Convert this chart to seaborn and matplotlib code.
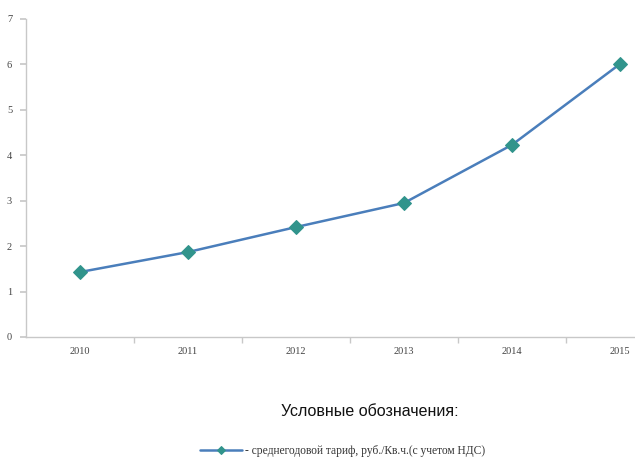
import matplotlib
matplotlib.use("Agg")
import matplotlib.pyplot as plt
import seaborn as sns
import pandas as pd
from matplotlib.ticker import FixedLocator

years = ["2010", "2011", "2012", "2013", "2014", "2015"]
tariff = [1.43, 1.87, 2.42, 2.95, 4.23, 6.01]
series_label = "- среднегодовой тариф, руб./Кв.ч.(с учетом НДС)"
legend_title = "Условные обозначения:"

sns.set_theme(style="white")
plt.rcParams['font.family'] = ['Liberation Serif', 'DejaVu Serif']

df = pd.DataFrame({"year": years, "tariff": tariff})

fig = plt.figure(figsize=(6.35, 4.63), dpi=100)
ax = fig.add_axes([26/635, 1-337/463, 648/635, (337-19)/463])

sns.lineplot(data=df, x="year", y="tariff", ax=ax, sort=False,
             color="#4a7ebb", linewidth=1.8, marker="D", markersize=7.5,
             markerfacecolor="#31948c", markeredgecolor="#31948c",
             label=series_label, legend=False)

ax.set_xlim(-0.5, len(years) - 0.5)
ax.set_ylim(0, 7)
ax.set_yticks(range(0, 8))
ax.set_xlabel("")
ax.set_ylabel("")

for s in ["top", "right"]:
    ax.spines[s].set_visible(False)
for s in ["left", "bottom"]:
    ax.spines[s].set_color("#c8c8c8")
    ax.spines[s].set_linewidth(1.0)

ax.xaxis.set_minor_locator(FixedLocator([i + 0.5 for i in range(len(years))]))
ax.tick_params(axis="x", which="major", length=0, pad=7, labelsize=7.5, labelcolor="#444444")
ax.tick_params(axis="x", which="minor", length=4, color="#c8c8c8", direction="out", bottom=True)
ax.tick_params(axis="y", which="major", length=4, color="#c8c8c8", direction="out", left=True,
               pad=6, labelsize=7.5, labelcolor="#444444")

fig.text(370/635, 1-412/463, legend_title, ha="center", va="center",
         fontsize=11.5, family="Liberation Sans", color="#111111")

handles, labels = ax.get_legend_handles_labels()
fig.legend(handles, labels, loc="center left", bbox_to_anchor=(190/635, 1-451/463),
           frameon=False, fontsize=8.3, handlelength=3.6, markerscale=0.55,
           handletextpad=0.3, labelcolor="#333333")

fig.savefig("out.png", dpi=100, facecolor="white")
